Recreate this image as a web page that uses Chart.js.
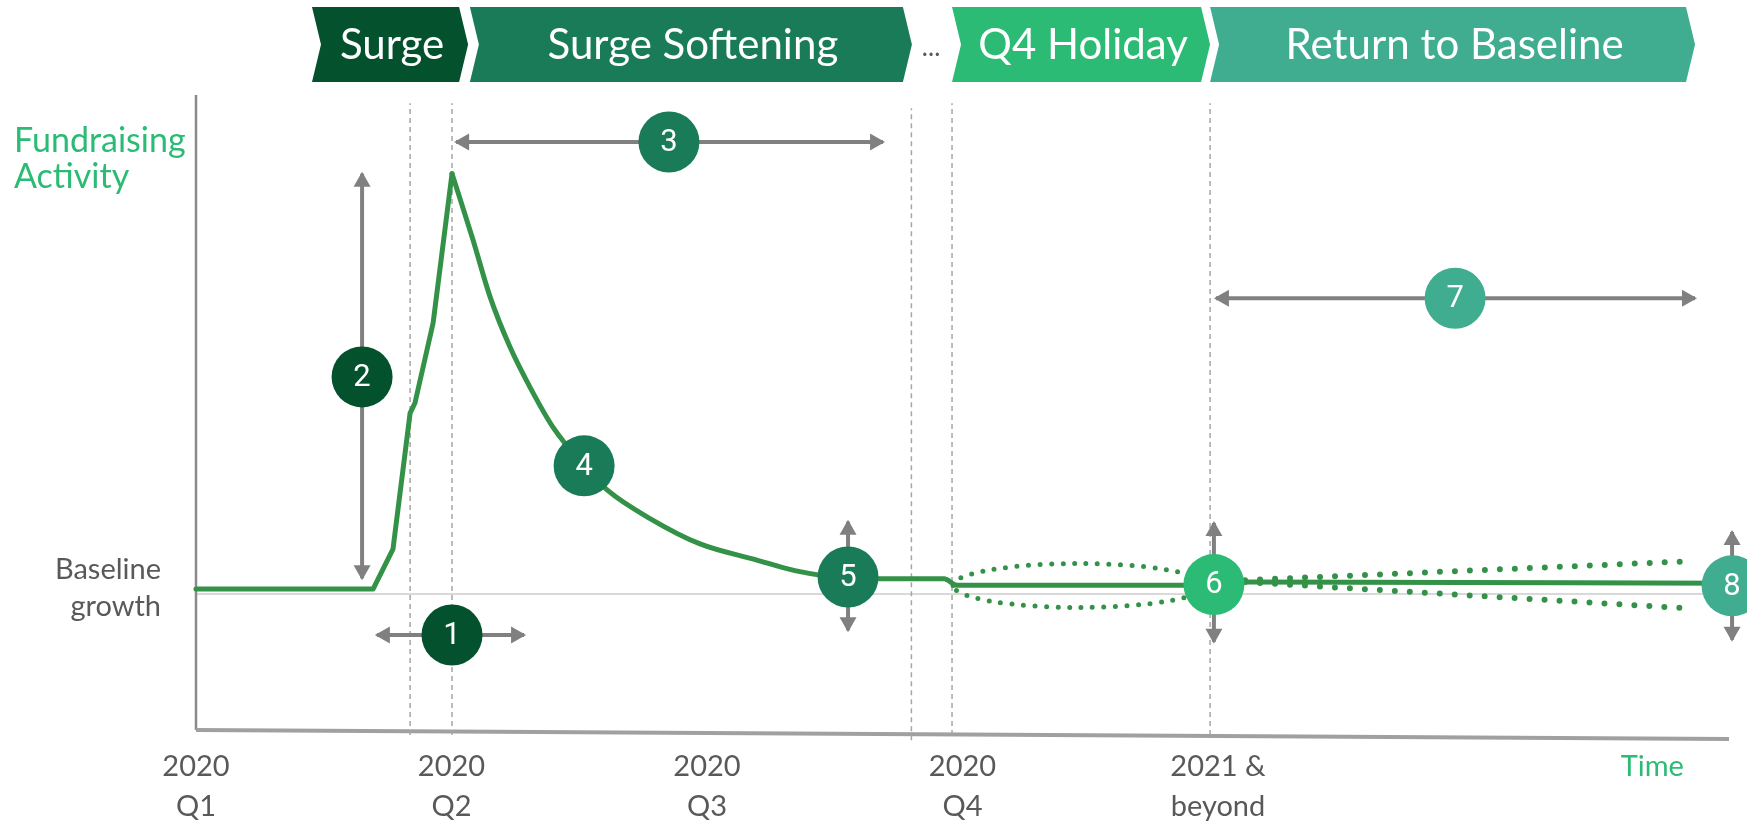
<!DOCTYPE html>
<html>
<head>
<meta charset="utf-8">
<script src="https://cdn.jsdelivr.net/npm/chart.js@4.4.1/dist/chart.umd.min.js"></script>
<style>
html,body{margin:0;padding:0;background:#ffffff;overflow:hidden;}
#wrap{width:1747px;height:823px;position:relative;}
#c{display:block;}
</style>
</head>
<body>
<div id="wrap"><canvas id="c"></canvas></div>
<script>
// ---------- DATA ----------
// x: quarters since 2020 Q1 (0 = 2020 Q1 ... 4 = 2021 & beyond), y: relative fundraising activity index
const surgeX = [0, 0.693, 0.771, 0.838, 0.857, 0.928, 1.002];
const surgeY = [22.2, 22.2, 28.5, 49.9, 51.5, 64.1, 87.6];
const declineX = [1.002, 1.084, 1.151, 1.229, 1.307, 1.397, 1.519, 1.609, 1.777, 1.973, 2.192, 2.344, 2.552, 2.673, 2.928, 2.978, 3.984, 4.102, 6.0];
const declineY = [87.6, 77.2, 68.2, 60.3, 54.0, 47.7, 41.6, 37.8, 33.3, 29.3, 26.8, 25.1, 23.9, 23.8, 23.8, 22.8, 22.8, 23.3, 23.1];
const baselineLevel = 21.4;

const xTickValues = [0, 1, 2, 3, 4, 5.7];
const xTickLabels = [['2020', 'Q1'], ['2020', 'Q2'], ['2020', 'Q3'], ['2020', 'Q4'], ['2021 &', 'beyond'], 'Time'];
const yTickValues = [22.3];
const yTickLabels = [['Baseline', 'growth']];
const yAxisTitle = ['Fundraising', 'Activity'];

const phaseNames = ['Surge', 'Surge Softening', 'Q4 Holiday', 'Return to Baseline'];
const phaseStart = [0.454, 1.072, 2.959, 3.969];
const phaseEnd = [1.065, 2.802, 3.969, 5.867];
const phaseColors = ['#04512E', '#1A7B58', '#2BBB74', '#40AD91'];
const gapMarkX = 2.877;

const boundaryX = [0.838, 1.002, 2.800, 2.959, 3.969];
const boundaryTop = [98.7, 98.7, 97.9, 98.7, 98.7];
const boundaryBottom = [-0.8, -0.8, -1.6, -0.8, -0.8];

const markerLabels = ['1', '2', '3', '4', '5', '6', '7', '8'];
const markerX = [1.002, 0.650, 1.851, 1.519, 2.552, 3.984, 4.928, 6.012];
const markerY = [14.96, 55.6, 92.6, 41.6, 24.1, 22.9, 68.0, 22.7];
const markerColors = ['#04512E', '#04512E', '#1A7B58', '#1A7B58', '#1A7B58', '#2BBB74', '#40AD91', '#40AD91'];

const arrowFromX = [0.708, 0.650, 1.018, 2.552, 3.984, 3.992, 6.012];
const arrowFromY = [14.96, 87.6, 92.6, 32.8, 32.6, 68.0, 31.2];
const arrowToX   = [1.284, 0.650, 2.689, 2.552, 3.984, 5.867, 6.012];
const arrowToY   = [14.96, 23.9, 92.6, 15.7, 13.9, 68.0, 14.2];

const q4BandCenterX = 3.456, q4BandCenterY = 22.76, q4BandHalfWidth = 0.493, q4BandHalfHeight = 3.46;
const rangeX = [4.106, 5.863];
const rangeUpperY = [23.6, 26.6];
const rangeLowerY = [23.3, 19.1];

const axisX = [0, 6];
const axisY = [0, -1.42];

// ---------- BUILD ----------
const pts = (xs, ys) => xs.map((x, i) => ({x: x, y: ys[i]}));
const GREEN = '#349248';
const GREY = '#808080';

const datasets = [];
datasets.push({label: 'markers', data: pts(markerX, markerY), showLine: false, pointRadius: 30.5, pointHoverRadius: 30.5,
  pointBackgroundColor: markerColors, pointBorderWidth: 0, clip: false, order: 0, isMarkers: true});
arrowFromX.forEach((x, i) => {
  datasets.push({label: 'arrow' + i, data: [{x: arrowFromX[i], y: arrowFromY[i]}, {x: arrowToX[i], y: arrowToY[i]}],
    showLine: true, borderColor: GREY, borderWidth: 4, pointRadius: 0, clip: false, order: 1, arrowHeads: true});
});
datasets.push({label: 'Fundraising activity (surge)', data: pts(surgeX, surgeY), showLine: true, borderColor: GREEN, borderWidth: 5,
  pointRadius: 0, borderJoinStyle: 'round', borderCapStyle: 'round', clip: false, order: 2});
datasets.push({label: 'Fundraising activity (decline)', data: pts(declineX, declineY), showLine: true, borderColor: GREEN, borderWidth: 5,
  pointRadius: 0, borderJoinStyle: 'round', borderCapStyle: 'round', cubicInterpolationMode: 'monotone', clip: false, order: 2});
datasets.push({label: 'range upper', data: pts(rangeX, rangeUpperY), showLine: true, borderColor: GREEN, borderWidth: 6,
  borderDash: [0, 15], borderCapStyle: 'round', pointRadius: 0, clip: false, order: 3, q4Band: true});
datasets.push({label: 'range lower', data: pts(rangeX, rangeLowerY), showLine: true, borderColor: GREEN, borderWidth: 6,
  borderDash: [0, 15], borderCapStyle: 'round', pointRadius: 0, clip: false, order: 3});
boundaryX.forEach((x, i) => {
  datasets.push({label: 'boundary' + i, data: [{x: x, y: boundaryBottom[i]}, {x: x, y: boundaryTop[i]}], showLine: true,
    borderColor: '#A6A6A6', borderWidth: 1.5, borderDash: [5, 4], pointRadius: 0, clip: false, order: 4});
});
datasets.push({label: 'x axis', data: pts(axisX, axisY), showLine: true, borderColor: '#A0A0A0', borderWidth: 4, pointRadius: 0, clip: false, order: 5});
datasets.push({label: 'y axis', data: [{x: 0, y: 0}, {x: 0, y: 100}], showLine: true, borderColor: '#8A8A8A', borderWidth: 2.5, pointRadius: 0, clip: false, order: 5});
datasets.push({label: 'baseline', data: [{x: 0, y: baselineLevel}, {x: 6, y: baselineLevel}], showLine: true, borderColor: '#D9D9D9', borderWidth: 2, pointRadius: 0, clip: false, order: 6});

function drawHead(ctx, tip, from) {
  const dx = tip.x - from.x, dy = tip.y - from.y;
  const len = Math.hypot(dx, dy) || 1;
  const ux = dx / len, uy = dy / len;
  const tx = tip.x + ux * 2, ty = tip.y + uy * 2;
  const bx = tx - ux * 15, by = ty - uy * 15;
  const nx = -uy, ny = ux;
  ctx.beginPath();
  ctx.moveTo(tx, ty);
  ctx.lineTo(bx + nx * 8.5, by + ny * 8.5);
  ctx.lineTo(bx - nx * 8.5, by - ny * 8.5);
  ctx.closePath();
  ctx.fillStyle = GREY;
  ctx.fill();
}

const deco = {
  id: 'deco',
  afterDatasetDraw(chart, args) {
    const ds = chart.data.datasets[args.index];
    const ctx = chart.ctx;
    const xs = chart.scales.x, ys = chart.scales.y;
    if (ds.arrowHeads) {
      const p = args.meta.data;
      ctx.save();
      drawHead(ctx, p[0], p[1]);
      drawHead(ctx, p[1], p[0]);
      ctx.restore();
    }
    if (ds.q4Band) {
      const cx = xs.getPixelForValue(q4BandCenterX), cy = ys.getPixelForValue(q4BandCenterY);
      const rx = xs.getPixelForValue(q4BandCenterX + q4BandHalfWidth) - cx;
      const ry = cy - ys.getPixelForValue(q4BandCenterY + q4BandHalfHeight);
      ctx.save();
      ctx.beginPath();
      ctx.ellipse(cx, cy, rx, ry, 0, Math.PI, 3 * Math.PI);
      ctx.setLineDash([0, 11.5]);
      ctx.lineCap = 'round';
      ctx.lineWidth = 5;
      ctx.strokeStyle = GREEN;
      ctx.stroke();
      ctx.restore();
    }
  },
  afterDatasetsDraw(chart) {
    const ctx = chart.ctx;
    chart.data.datasets.forEach((ds, i) => {
      if (!ds.isMarkers) return;
      const meta = chart.getDatasetMeta(i);
      ctx.save();
      ctx.fillStyle = '#FFFFFF';
      ctx.font = '31px Roboto';
      ctx.textAlign = 'center';
      ctx.textBaseline = 'middle';
      meta.data.forEach((p, j) => ctx.fillText(markerLabels[j], p.x, p.y + 1));
      ctx.restore();
    });
  },
  afterDraw(chart) {
    const ctx = chart.ctx;
    const xs = chart.scales.x;
    const T = 7, B = 82, M = (T + B) / 2, d = 9;
    ctx.save();
    phaseNames.forEach((name, i) => {
      const L = xs.getPixelForValue(phaseStart[i]);
      const R = xs.getPixelForValue(phaseEnd[i]);
      ctx.beginPath();
      ctx.moveTo(L, T);
      ctx.lineTo(R - d, T);
      ctx.lineTo(R, M);
      ctx.lineTo(R - d, B);
      ctx.lineTo(L, B);
      ctx.lineTo(L + d, M);
      ctx.closePath();
      ctx.fillStyle = phaseColors[i];
      ctx.fill();
      ctx.fillStyle = '#FFFFFF';
      ctx.font = '42px Lato';
      ctx.textAlign = 'center';
      ctx.textBaseline = 'middle';
      ctx.fillText(name, (L + R) / 2 + 2, M + 1);
    });
    ctx.fillStyle = '#595959';
    ctx.font = '26px Lato';
    ctx.textAlign = 'center';
    ctx.textBaseline = 'alphabetic';
    ctx.fillText('...', xs.getPixelForValue(gapMarkX), 56);
    ctx.fillStyle = '#2BBB74';
    ctx.font = '34px Lato';
    ctx.textAlign = 'left';
    ctx.fillText(yAxisTitle[0], 14, 152);
    ctx.fillText(yAxisTitle[1], 14, 188);
    ctx.restore();
  }
};

new Chart(document.getElementById('c'), {
  type: 'scatter',
  data: {datasets: datasets},
  options: {
    responsive: true,
    maintainAspectRatio: false,
    animation: false,
    events: [],
    layout: {autoPadding: false, padding: {left: 0, right: 18, top: 95, bottom: 0}},
    plugins: {legend: {display: false}, tooltip: {enabled: false}},
    scales: {
      x: {
        type: 'linear', min: 0, max: 6,
        grid: {display: false, drawTicks: false},
        border: {display: false},
        afterFit: s => { s.height = 93; s.paddingLeft = 0; s.paddingRight = 0; },
        afterBuildTicks: s => { s.ticks = xTickValues.map(v => ({value: v})); },
        ticks: {
          autoSkip: false, maxRotation: 0, minRotation: 0, padding: 17,
          color: c => (c.index === xTickValues.length - 1 ? '#2BBB74' : '#595959'),
          font: {family: 'Lato', size: 29, lineHeight: 1.38},
          callback: (v, i) => xTickLabels[i]
        }
      },
      y: {
        type: 'linear', min: 0, max: 100,
        grid: {display: false, drawTicks: false},
        border: {display: false},
        afterFit: s => { s.width = 196; s.paddingTop = 0; s.paddingBottom = 0; },
        afterBuildTicks: s => { s.ticks = yTickValues.map(v => ({value: v})); },
        ticks: {
          padding: 35, color: '#595959',
          font: {family: 'Lato', size: 29, lineHeight: 1.28},
          callback: (v, i) => yTickLabels[i]
        }
      }
    }
  },
  plugins: [deco]
});
</script>
</body>
</html>
